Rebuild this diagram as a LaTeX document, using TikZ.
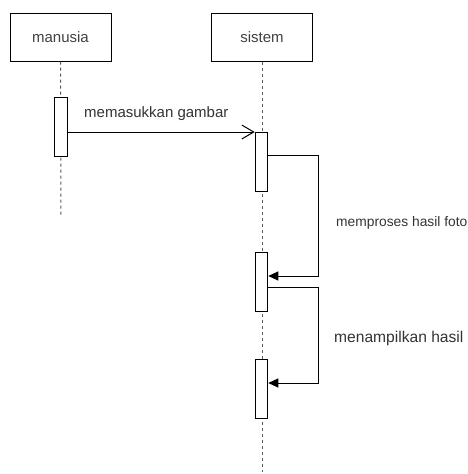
\documentclass[tikz,border=0pt]{standalone}
\usepackage{fontspec}
\setmainfont{Liberation Sans}
\usetikzlibrary{arrows.meta}
\begin{document}
\begin{tikzpicture}[x=1pt,y=-1pt,
  head/.style={draw,line width=1pt,minimum width=101pt,minimum height=48pt,inner sep=0pt,
    font=\fontsize{15}{18}\selectfont,text=black!75},
  act/.style={draw,fill=white,line width=1pt,minimum width=12.5pt,minimum height=59pt,inner sep=0pt},
  life/.style={line width=1pt,dash pattern=on 3pt off 3pt,black!65},
  msg/.style={line width=1pt},
  lbl/.style={font=\fontsize{15}{18}\selectfont,text=black!80,inner sep=0pt},
  openhead/.style={-{Straight Barb[length=12pt,width=14pt,line width=1pt]}},
  fillhead/.style={-{Triangle[length=10pt,width=9pt]}}]
\useasboundingbox (0,0) rectangle (467,474);
% participants
\node[head] (man) at (60.5,37) {manusia};
\node[head] (sis) at (262,37) {sistem};
\coordinate (manend) at (61,216);
\coordinate (sisend) at (262,472);
% lifelines
\draw[life] (man.south) -- (manend);
\draw[life] (sis.south) -- (sisend);
% activations
\node[act] (a0) at (61,126.5) {};
\node[act] (a1) at (261.5,162) {};
\node[act] (a2) at (261.5,281.5) {};
\node[act] (a3) at (261.5,388.5) {};
% bends of the self messages
\coordinate (r1a) at (318,155);
\coordinate (r1b) at (318,276);
\coordinate (r2a) at (318,287);
\coordinate (r2b) at (318,383);
% messages
\draw[msg,openhead] (a0.east |- a1.north west) -- (a1.north west);
\draw[msg,fillhead] (a1.east |- r1a) -- (r1a) -- (r1b) -- (a2.east |- r1b);
\draw[msg,fillhead] (a2.east |- r2a) -- (r2a) -- (r2b) -- (a3.east |- r2b);
% labels
\node[lbl,anchor=base west] (l1) at (84,117) {memasukkan gambar};
\node[lbl,anchor=base west,font=\fontsize{13.8}{16}\selectfont] (l2) at (336,226) {memproses hasil foto};
\node[lbl,anchor=base west,font=\fontsize{15.6}{18}\selectfont] (l3) at (334,342) {menampilkan hasil};
\end{tikzpicture}
\end{document}
